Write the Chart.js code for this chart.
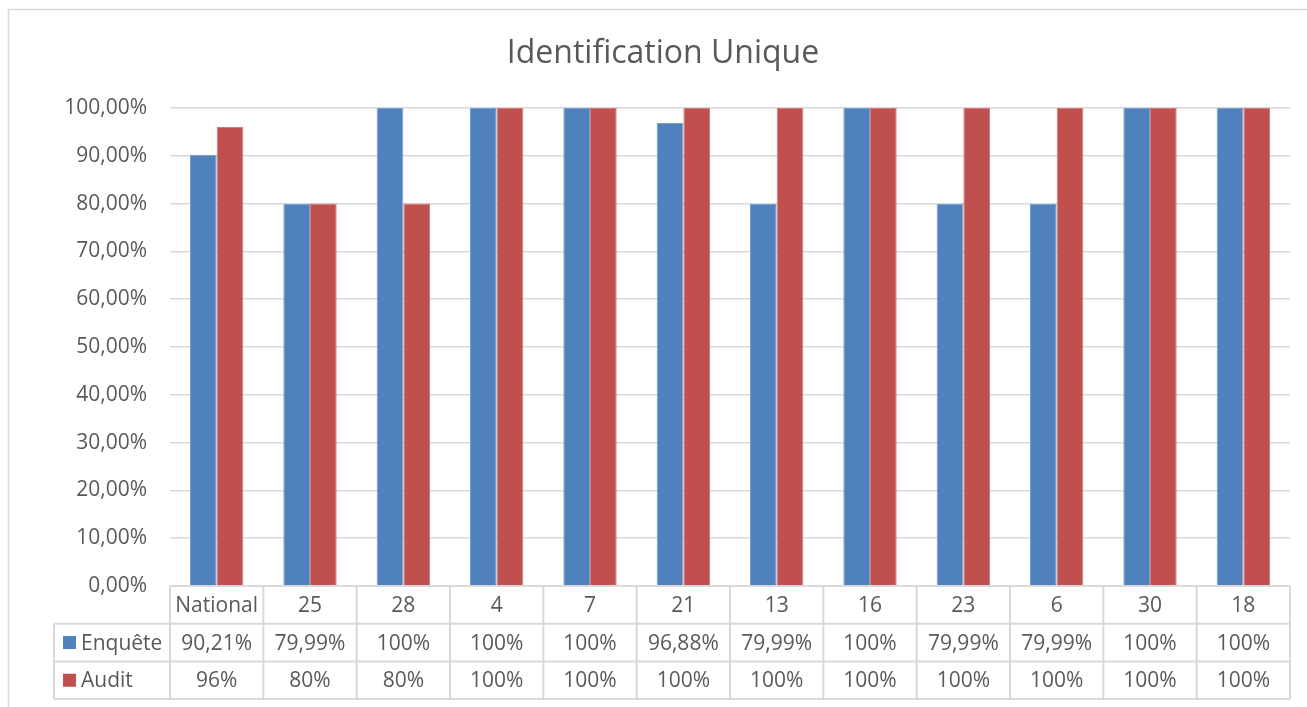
<!DOCTYPE html>
<html>
<head>
<meta charset="utf-8">
<script src="https://cdn.jsdelivr.net/npm/chart.js@4.4.1/dist/chart.umd.min.js"></script>
<style>
  html,body{margin:0;padding:0;background:#fff;}
  canvas{display:block;}
</style>
</head>
<body>
<canvas id="chart" width="1307" height="707"></canvas>
<script>
// ========== Data ==========
const chartTitle='Identification Unique';
const categories=['National','25','28','4','7','21','13','16','23','6','30','18'];
const seriesNames=['Enquête','Audit'];
const enquete=[90.21,79.99,100,100,100,96.88,79.99,100,79.99,79.99,100,100];
const audit=[96,80,80,100,100,100,100,100,100,100,100,100];
const seriesColors=['#4F81BD','#C0504D'];
const seriesEdges=['#7A9FD0','#D27B78'];

const TEXT='#595959', LINE='#D9D9D9', FONT='"Open Sans", "Noto Sans", sans-serif';

// ========== Helpers ==========
function fmtPct(v){return Number.isInteger(v)? v+'%' : v.toFixed(2).replace('.',',')+'%';}
function fmtTick(v){return v.toFixed(2).replace('.',',')+'%';}

// ========== Frame + title + data table ==========
const frameTable={
  id:'frameTable',
  beforeDraw(c){
    const ctx=c.ctx;
    ctx.save();
    ctx.fillStyle='#fff'; ctx.fillRect(0,0,c.width,c.height);
    ctx.strokeStyle=LINE; ctx.lineWidth=1.5;
    ctx.beginPath();
    ctx.moveTo(8.5,c.height); ctx.lineTo(8.5,9.5); ctx.lineTo(c.width,9.5);
    ctx.stroke();
    ctx.restore();
  },
  afterDraw(c){
    const ctx=c.ctx, x=c.scales.x, a=c.chartArea;
    const cw=(a.right-a.left)/categories.length;
    const rowH=37.7, top=a.bottom, legL=54;
    const rows=[top, top+rowH, top+2*rowH, top+3*rowH];
    ctx.save();
    // title
    ctx.fillStyle=TEXT; ctx.font='32px '+FONT;
    ctx.textAlign='center'; ctx.textBaseline='middle';
    ctx.fillText(chartTitle,663,54);
    // grid lines of table
    ctx.strokeStyle=LINE; ctx.lineWidth=2;
    ctx.beginPath();
    ctx.moveTo(a.left,rows[0]); ctx.lineTo(a.right,rows[0]);
    for(let r=1;r<4;r++){ctx.moveTo(legL,rows[r]); ctx.lineTo(a.right,rows[r]);}
    ctx.moveTo(legL,rows[1]); ctx.lineTo(legL,rows[3]);
    for(let i=0;i<=categories.length;i++){
      const px=a.left+i*cw;
      ctx.moveTo(px,rows[0]); ctx.lineTo(px,rows[3]);
    }
    ctx.stroke();
    // texts
    ctx.font='21px '+FONT; ctx.fillStyle=TEXT;
    const rowData=[categories, enquete.map(fmtPct), audit.map(fmtPct)];
    rowData.forEach((vals,r)=>{
      const cy=rows[r]+rowH/2+1;
      vals.forEach((t,i)=>{ctx.fillText(t,x.getPixelForValue(i),cy);});
    });
    // legend keys
    ctx.textAlign='left';
    [0,1].forEach(s=>{
      const cy=rows[s+1]+rowH/2;
      ctx.fillStyle=seriesColors[s];
      ctx.fillRect(63,cy-6.5,13,13);
      ctx.fillStyle=TEXT;
      ctx.fillText(seriesNames[s],81,cy+1);
    });
    ctx.restore();
  }
};

// ========== Chart ==========
new Chart(document.getElementById('chart'),{
  type:'bar',
  data:{
    labels:categories,
    datasets:[
      {label:seriesNames[0],data:enquete,backgroundColor:seriesColors[0],borderColor:seriesEdges[0],borderWidth:{left:1,right:1,top:1,bottom:0}},
      {label:seriesNames[1],data:audit,backgroundColor:seriesColors[1],borderColor:seriesEdges[1],borderWidth:{left:1,right:1,top:1,bottom:0}}
    ]
  },
  options:{
    responsive:false,
    animation:false,
    devicePixelRatio:1,
    layout:{padding:{left:8,right:17,top:108,bottom:121}},
    plugins:{legend:{display:false},title:{display:false},tooltip:{enabled:false}},
    datasets:{bar:{categoryPercentage:0.572,barPercentage:1}},
    scales:{
      x:{
        grid:{display:false},border:{display:false},ticks:{display:false},
        afterFit:s=>{s.height=0;}
      },
      y:{
        min:0,max:100,
        afterFit:s=>{s.width=162;},
        border:{display:false},
        grid:{color:LINE,lineWidth:1.5,drawTicks:false},
        ticks:{stepSize:10,padding:23,color:TEXT,font:{family:FONT,size:21},callback:v=>fmtTick(v)}
      }
    }
  },
  plugins:[frameTable]
});
</script>
</body>
</html>
